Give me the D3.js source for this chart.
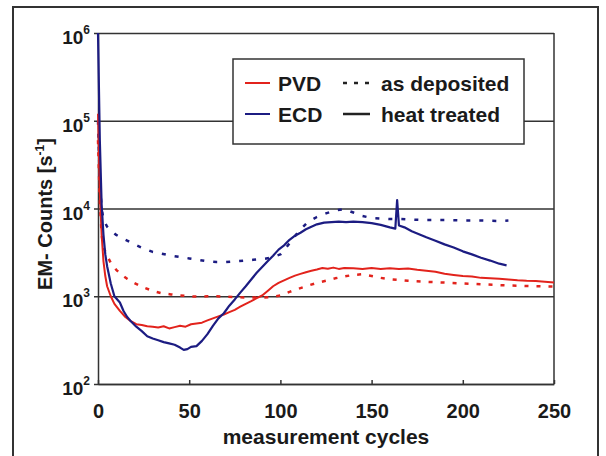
<!DOCTYPE html>
<html>
<head>
<meta charset="utf-8">
<script src="https://cdn.jsdelivr.net/npm/d3@7"></script>
<style>
body { margin: 0; background: #fff; }
text { font-family: "Liberation Sans", Arial, sans-serif; font-weight: bold; fill: #1a1a1a; }
</style>
</head>
<body>
<div id="chart"></div>
<script>
// tick values
var xTicks = [0, 50, 100, 150, 200, 250];
var yTicks = [1e2, 1e3, 1e4, 1e5, 1e6];
var yExponents = ["2", "3", "4", "5", "6"];

// PVD, heat treated (red solid)
var pvdHeatCycles = [0,1,2,3,4,5,7,9,12,15,18,21,24,27,30,33,36,39,42,45,48,51,54,57,60,63,66,69,72,75,78,81,84,87,90,93,96,99,102,105,108,111,114,117,120,123,126,129,132,135,140,145,150,155,160,165,170,175,180,185,190,195,200,205,210,215,220,225,230,235,240,245,250];
var pvdHeatCounts = [120000,15000,5000,2500,1700,1300,1000,820,680,580,520,480,470,455,450,440,455,430,445,460,450,480,490,500,530,560,590,620,660,700,760,820,880,950,1020,1150,1300,1420,1520,1620,1720,1800,1880,1950,2020,2100,2060,2120,2050,2100,2080,2040,2100,2050,2080,2050,2070,2000,1950,1900,1800,1750,1700,1680,1620,1600,1580,1550,1520,1500,1490,1460,1430];

// ECD, heat treated (blue solid)
var ecdHeatCycles = [0,1,2,3,4,5,7,9,12,14,16,18,21,24,27,30,33,36,39,42,45,47,49,51,54,57,60,63,66,69,72,75,78,81,84,87,90,93,96,99,102,105,108,111,114,117,120,124,128,132,136,140,145,150,155,160,163,164,165,168,172,176,180,185,190,195,200,205,210,215,220,224];
var ecdHeatCounts = [1000000,60000,11000,5000,3000,2200,1400,1000,850,680,580,520,450,400,350,330,315,300,290,280,260,245,250,265,270,310,370,460,560,640,780,920,1100,1300,1550,1850,2150,2500,2900,3400,3800,4400,4900,5300,5800,6200,6600,6900,7000,7100,7000,7100,7000,6800,6500,6100,5900,12500,6400,6100,5500,5100,4700,4300,3900,3600,3250,3000,2750,2550,2350,2250];

// PVD, as deposited (red dashed)
var pvdDepCycles = [0,1,2,3,5,7,10,13,16,19,22,25,30,35,40,45,50,55,60,65,70,75,80,85,90,95,100,105,110,115,120,125,130,135,140,145,150,155,160,165,170,180,190,200,210,220,230,240,250];
var pvdDepCounts = [60000,12000,5000,3600,2900,2400,2000,1750,1580,1450,1350,1260,1150,1080,1050,1020,1000,990,1000,1000,990,980,970,970,960,980,1020,1120,1220,1320,1420,1500,1600,1680,1750,1780,1700,1620,1560,1530,1500,1460,1430,1400,1370,1340,1320,1300,1290];

// ECD, as deposited (blue dashed)
var ecdDepCycles = [0,1,2,3,5,7,10,13,16,20,25,30,35,40,45,50,55,60,65,70,75,80,85,90,95,100,105,110,115,120,125,130,135,140,145,150,155,160,165,170,180,190,200,210,220,225];
var ecdDepCounts = [100000,20000,10000,7500,6200,5600,5000,4600,4300,3900,3500,3200,3050,2900,2800,2700,2600,2500,2450,2450,2500,2550,2600,2650,2750,3000,4000,5500,7000,8000,8800,9500,9800,9000,8200,7800,7700,7600,7600,7500,7400,7400,7300,7300,7200,7300];

var red = "#e2231c";
var blue = "#1c1c82";

var width = 606, height = 456;
var svg = d3.select("#chart").append("svg")
	.attr("width", width)
	.attr("height", height);

// outer frame
svg.append("rect")
	.attr("x", 13).attr("y", 7)
	.attr("width", 585).attr("height", 470)
	.attr("fill", "#fff")
	.attr("stroke", "#333")
	.attr("stroke-width", 2);

var x = d3.scaleLinear().domain([0, 250]).range([98, 554]);
var y = d3.scaleLog().domain([1e2, 1e6]).range([384, 33]);

// gridlines
svg.append("g")
	.attr("transform", "translate(98,0)")
	.call(d3.axisRight(y).tickValues(yTicks).tickSize(554 - 98).tickFormat(""))
	.call(function(g) {
		g.select(".domain").remove();
		g.selectAll("line").attr("stroke", "#333").attr("stroke-width", 1.5);
	});

// right border
svg.append("line")
	.attr("x1", 554).attr("x2", 554)
	.attr("y1", y(1e6)).attr("y2", y(1e2))
	.attr("stroke", "#333").attr("stroke-width", 1.5);

// x axis
svg.append("g")
	.attr("transform", "translate(0,384)")
	.call(d3.axisBottom(x).tickValues(xTicks).tickSize(-4).tickSizeOuter(0).tickPadding(20))
	.call(function(g) {
		g.select(".domain").attr("stroke", "#333").attr("stroke-width", 1.5);
		g.selectAll("line").attr("stroke", "#333").attr("stroke-width", 1.5);
		g.selectAll("text")
			.attr("font-size", 20)
			.attr("font-family", "Liberation Sans, Arial, sans-serif")
			.attr("font-weight", "bold")
			.attr("fill", "#1a1a1a");
	});

// y axis
svg.append("g")
	.attr("transform", "translate(98,0)")
	.call(d3.axisLeft(y).tickValues(yTicks).tickSize(4).tickSizeOuter(0).tickFormat(""))
	.call(function(g) {
		g.select(".domain").attr("stroke", "#333").attr("stroke-width", 1.5);
		g.selectAll("line").attr("stroke", "#333").attr("stroke-width", 1.5);
	});

var yLabels = svg.append("g").selectAll("text")
	.data(yTicks)
	.enter().append("text")
	.attr("x", 90)
	.attr("y", function(d) { return y(d) + 11; })
	.attr("text-anchor", "end")
	.attr("font-size", 19);
yLabels.append("tspan").text("10");
yLabels.append("tspan")
	.attr("dy", -10)
	.attr("font-size", 12)
	.text(function(d, i) { return yExponents[i]; });

// axis titles
svg.append("text")
	.attr("x", 326).attr("y", 444)
	.attr("text-anchor", "middle")
	.attr("font-size", 21)
	.text("measurement cycles");

var yTitle = svg.append("text")
	.attr("transform", "translate(52,214) rotate(-90)")
	.attr("text-anchor", "middle")
	.attr("font-size", 20);
yTitle.append("tspan").text("EM- Counts [s");
yTitle.append("tspan").attr("dy", -8).attr("font-size", 12).text("-1");
yTitle.append("tspan").attr("dy", 8).text("]");

// series
var line = d3.line()
	.x(function(d) { return x(d[0]); })
	.y(function(d) { return y(d[1]); });

var series = [
	{ cycles: pvdDepCycles, counts: pvdDepCounts, color: red, dash: "4,8", w: 2.5 },
	{ cycles: ecdDepCycles, counts: ecdDepCounts, color: blue, dash: "4,9", w: 2.5 },
	{ cycles: pvdHeatCycles, counts: pvdHeatCounts, color: red, dash: null, w: 2 },
	{ cycles: ecdHeatCycles, counts: ecdHeatCounts, color: blue, dash: null, w: 2.2 }
];

series.forEach(function(s) {
	svg.append("path")
		.datum(d3.zip(s.cycles, s.counts))
		.attr("d", line)
		.attr("fill", "none")
		.attr("stroke", s.color)
		.attr("stroke-width", s.w)
		.attr("stroke-dasharray", s.dash)
		.attr("stroke-linejoin", "round");
});

// legend
var legend = svg.append("g");
legend.append("rect")
	.attr("x", 233).attr("y", 59)
	.attr("width", 291).attr("height", 85)
	.attr("fill", "#fff")
	.attr("stroke", "#333")
	.attr("stroke-width", 1.5);

var legendRows = [
	{ color: red, label: "PVD", dash: "4,7", style: "as deposited", yy: 83 },
	{ color: blue, label: "ECD", dash: null, style: "heat treated", yy: 114 }
];
legendRows.forEach(function(r) {
	legend.append("line")
		.attr("x1", 245).attr("x2", 270)
		.attr("y1", r.yy).attr("y2", r.yy)
		.attr("stroke", r.color).attr("stroke-width", 2);
	legend.append("text")
		.attr("x", 278).attr("y", r.yy + 8)
		.attr("font-size", 21)
		.text(r.label);
	legend.append("line")
		.attr("x1", 343).attr("x2", 370)
		.attr("y1", r.yy).attr("y2", r.yy)
		.attr("stroke", "#222").attr("stroke-width", 2.5)
		.attr("stroke-dasharray", r.dash);
	legend.append("text")
		.attr("x", 381).attr("y", r.yy + 8)
		.attr("font-size", 21)
		.text(r.style);
});
</script>
</body>
</html>
